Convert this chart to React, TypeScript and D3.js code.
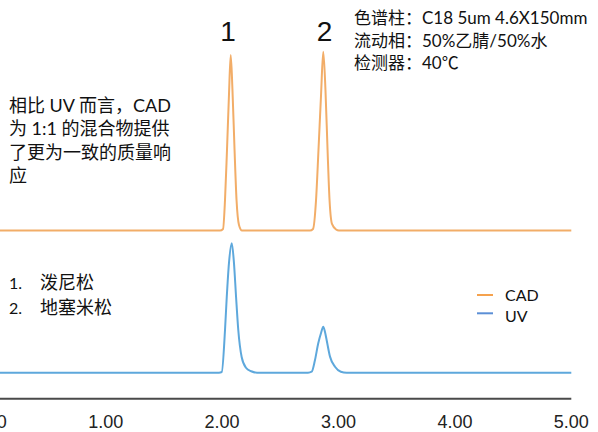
import React from 'react';
import * as d3 from 'd3';

// Retention-time axis
const xTicks = [0, 1, 2, 3, 4, 5];
const xTickLabels = ['0.00', '1.00', '2.00', '3.00', '4.00', '5.00'];

// CAD trace (offset baseline = 100)
const cadTime = [0, 1.982, 2.008, 2.025, 2.042, 2.059, 2.074, 2.089, 2.107, 2.124, 2.145, 2.171,
  2.755, 2.781, 2.807, 2.828, 2.85, 2.869, 2.888, 2.906, 2.923, 2.944, 2.979, 3.004, 5.0];
const cadSignal = [100, 100, 101.1, 121.4, 156.6, 195.3, 223.4, 198.9, 156.6, 121.4, 103.9, 100,
  100, 101.1, 121.4, 156.6, 195.3, 225.7, 198.9, 156.6, 121.4, 104.6, 100.7, 100, 100];

// UV trace (baseline = 0)
const uvTime = [0, 1.973, 1.997, 2.025, 2.04, 2.059, 2.083, 2.102, 2.12, 2.139, 2.168, 2.205, 2.25, 2.3,
  2.738, 2.77, 2.798, 2.826, 2.85, 2.869, 2.884, 2.898, 2.927, 2.97, 3.02, 3.07, 5.0];
const uvSignal = [0, 0, 0.5, 30, 53.2, 77.1, 91, 77.1, 53.2, 30, 11, 3.5, 1, 0,
  0, 0.7, 8.9, 20.7, 27.9, 32.3, 28.6, 23, 11.3, 4.2, 0.7, 0, 0];

// Peak labels
const peakLabels = ['1', '2'];
const peakTimes = [2.05, 2.88];

const conditionLines = ['色谱柱：C18 5um 4.6X150mm', '流动相：50%乙腈/50%水', '检测器：40℃'];
const noteLines = ['相比 UV 而言，CAD', '为 1:1 的混合物提供', '了更为一致的质量响', '应'];
const compoundLines = [['1.', '泼尼松'], ['2.', '地塞米松']];
const legendNames = ['CAD', 'UV'];
const legendColors = ['#f5a24e', '#5b8fd6'];

const W = 598;
const H = 432;

export default function App() {
  const x = d3.scaleLinear().domain([0, 5]).range([-10.7, 571.3]);
  const y = d3.scaleLinear().domain([0, 250]).range([372.7, 372.7 - 250 * 1.422]);

  const line = d3
    .line<[number, number]>()
    .x((d) => x(d[0]))
    .y((d) => y(d[1]))
    .curve(d3.curveMonotoneX);

  const cadPts = cadTime.map((t, i) => [t, cadSignal[i]] as [number, number]);
  const uvPts = uvTime.map((t, i) => [t, uvSignal[i]] as [number, number]);

  const cjk = "Lato, 'Noto Sans CJK SC', sans-serif";
  const latin = "'Liberation Sans', Arial, sans-serif";

  return (
    <svg
      width={W}
      height={H}
      viewBox={`0 0 ${W} ${H}`}
      style={{ position: 'absolute', left: 0, top: 0, background: '#fff' }}
    >
      {/* traces */}
      <path d={line(cadPts) || ''} fill="none" stroke="#f2ad68" strokeWidth={2} strokeLinejoin="round" />
      <path d={line(uvPts) || ''} fill="none" stroke="#5ea8dc" strokeWidth={2} strokeLinejoin="round" />

      {/* x axis */}
      <line x1={x(0)} x2={x(5)} y1={398.7} y2={398.7} stroke="#4a4a4a" strokeWidth={2} />
      {xTicks.map((t, i) => (
        <text key={t} x={x(t)} y={428} textAnchor="middle" fontFamily={latin} fontSize={18} fill="#222">
          {xTickLabels[i]}
        </text>
      ))}

      {/* peak labels */}
      {peakLabels.map((p, i) => (
        <text key={p} x={x(peakTimes[i])} y={40.5} textAnchor="middle" fontFamily={latin} fontSize={28} fill="#111">
          {p}
        </text>
      ))}

      {/* conditions */}
      {conditionLines.map((s, i) => (
        <text key={s} x={354} y={24 + i * 22.7} fontFamily={cjk} fontSize={17} fill="#111">
          {s}
        </text>
      ))}

      {/* note */}
      {noteLines.map((s, i) => (
        <text key={s} x={9} y={112 + i * 23.3} fontFamily={cjk} fontSize={18} fill="#111">
          {s}
        </text>
      ))}

      {/* compounds */}
      {compoundLines.map((c, i) => (
        <g key={c[0]}>
          <text x={9} y={289 + i * 25} fontFamily={cjk} fontSize={16} fill="#111">
            {c[0]}
          </text>
          <text x={40} y={289 + i * 25} fontFamily={cjk} fontSize={18} fill="#111">
            {c[1]}
          </text>
        </g>
      ))}

      {/* legend */}
      {legendNames.map((n, i) => (
        <g key={n}>
          <line x1={477} x2={493} y1={295 + i * 18.3} y2={295 + i * 18.3} stroke={legendColors[i]} strokeWidth={2} />
          <text x={505} y={300.5 + i * 21} fontFamily={cjk} fontSize={16} fill="#111">
            {n}
          </text>
        </g>
      ))}
    </svg>
  );
}
